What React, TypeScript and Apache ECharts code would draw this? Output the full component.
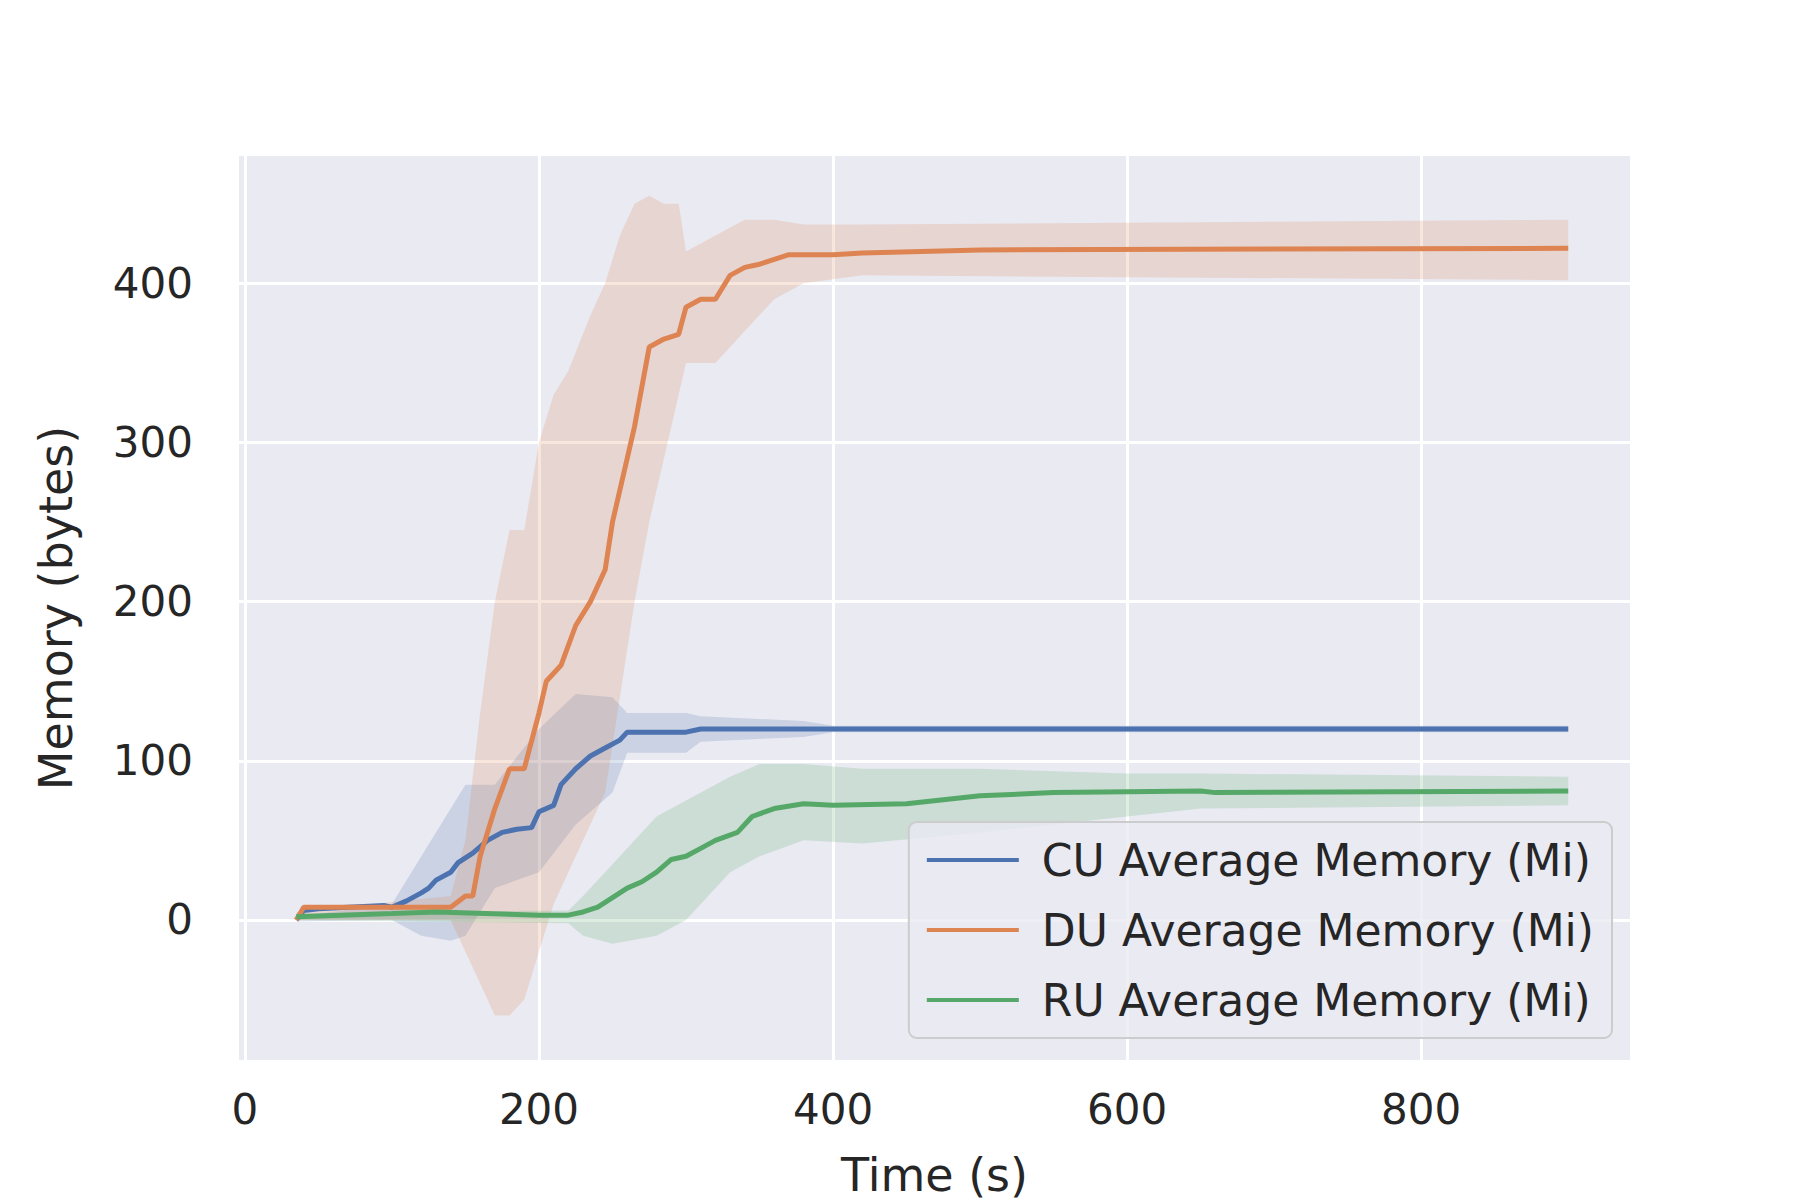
import { FC, useEffect, useRef } from "react";
import * as echarts from "echarts";

// mean lines: [time, value]
const cuMean: [number, number][] = [
  [35, 0], [40, 6], [50, 7], [70, 8], [95, 9], [100, 8], [110, 12], [120, 17], [125, 20], [130, 25],
  [140, 30], [145, 36], [155, 42], [165, 50], [175, 55], [185, 57], [195, 58], [200, 68], [210, 72],
  [215, 85], [225, 95], [235, 103], [245, 108], [255, 113], [260, 118], [300, 118], [310, 120], [900, 120],
];
const duMean: [number, number][] = [
  [35, 0], [40, 8], [100, 8], [140, 8], [150, 15], [155, 15], [160, 40], [170, 70], [180, 95], [190, 95],
  [200, 130], [205, 150], [215, 160], [225, 185], [235, 200], [245, 220], [250, 250], [255, 270],
  [265, 310], [275, 360], [285, 365], [295, 368], [300, 385], [310, 390], [320, 390], [330, 405],
  [340, 410], [350, 412], [360, 415], [370, 418], [400, 418], [420, 419], [500, 421], [900, 422],
];
const ruMean: [number, number][] = [
  [35, 2], [100, 4], [130, 5], [200, 3], [220, 3], [230, 5], [240, 8], [250, 14], [260, 20], [270, 24],
  [280, 30], [290, 38], [300, 40], [310, 45], [320, 50], [335, 55], [345, 65], [360, 70], [380, 73],
  [400, 72], [450, 73], [500, 78], [550, 80], [650, 81], [660, 80], [900, 81],
];

// confidence bands: time, lower, upper
const cuBandT = [35, 100, 120, 140, 150, 170, 200, 225, 250, 260, 300, 310, 380, 400, 900];
const cuBandLo = [-1, 0, -10, -13, -10, 20, 30, 60, 80, 105, 105, 112, 115, 118, 118];
const cuBandHi = [2, 10, 40, 70, 85, 85, 120, 142, 140, 130, 130, 128, 125, 122, 122];

const duBandT = [35, 140, 150, 160, 170, 180, 190, 200, 210, 220, 235, 245, 255, 265, 275, 285, 295, 300, 320, 340, 360, 380, 420, 900];
const duBandLo = [0, 0, -20, -40, -60, -60, -50, -20, 10, 30, 60, 80, 140, 200, 250, 290, 330, 350, 350, 370, 390, 400, 405, 402];
const duBandHi = [5, 15, 50, 130, 200, 245, 245, 300, 330, 345, 380, 400, 430, 450, 455, 450, 450, 420, 430, 440, 440, 437, 437, 440];

const ruBandT = [35, 220, 230, 250, 280, 300, 330, 350, 380, 420, 500, 600, 650, 900];
const ruBandLo = [0, -2, -10, -15, -10, 0, 30, 40, 50, 48, 55, 65, 70, 72];
const ruBandHi = [4, 6, 15, 35, 65, 75, 90, 98, 98, 95, 95, 92, 92, 90];

const names = ["CU Average Memory (Mi)", "DU Average Memory (Mi)", "RU Average Memory (Mi)"];
const colors = ["#4c72b0", "#dd8452", "#55a868"];
const xTicks = [0, 200, 400, 600, 800];
const yTicks = [0, 100, 200, 300, 400];

// band polygon drawn once per series through the axes' scales
const band = (t: number[], lo: number[], hi: number[], color: string) => ({
  type: "custom",
  silent: true,
  z: 1,
  data: t.map((x, i) => [x, lo[i], hi[i]]),
  encode: { x: 0, y: [1, 2] },
  renderItem: (params: any, api: any) => {
    if (params.dataIndex !== 0) return null;
    const upper = t.map((x, i) => api.coord([x, hi[i]]));
    const lower = t.map((x, i) => api.coord([x, lo[i]])).reverse();
    return {
      type: "polygon",
      shape: { points: [...upper, ...lower] },
      style: { fill: color, opacity: 0.2 },
    };
  },
});

const App: FC = () => {
  const ref = useRef<HTMLDivElement>(null);

  useEffect(() => {
    if (!ref.current) return;
    const chart = echarts.init(ref.current, undefined, { renderer: "svg" });
    const font = "DejaVu Sans";
    const text = { fontFamily: font, color: "#262626" };
    chart.setOption({
      animation: false,
      grid: { left: 231, right: 178, top: 148, bottom: 148, show: true, backgroundColor: "#eaeaf2", borderWidth: 0 },
      legend: {
        data: names,
        orient: "vertical",
        right: 196,
        bottom: 170,
        itemWidth: 92,
        itemHeight: 4,
        itemGap: 26,
        icon: "rect",
        backgroundColor: "rgba(234,234,242,0.8)",
        borderColor: "#cccccc",
        borderWidth: 2,
        borderRadius: 8,
        padding: [16, 18, 16, 18],
        textStyle: { ...text, fontSize: 44, padding: [0, 0, 0, 18] },
      },
      xAxis: {
        type: "value", min: -4, max: 942,
        axisLine: { show: false },
        axisTick: { show: false, customValues: xTicks },
        splitLine: { lineStyle: { color: "#ffffff", width: 3 } },
        axisLabel: { ...text, fontSize: 42, margin: 28, customValues: xTicks },
        name: "Time (s)", nameLocation: "middle", nameGap: 92,
        nameTextStyle: { ...text, fontSize: 46 },
      },
      yAxis: {
        type: "value", min: -88, max: 480,
        axisLine: { show: false },
        axisTick: { show: false, customValues: yTicks },
        splitLine: { lineStyle: { color: "#ffffff", width: 3 } },
        axisLabel: { ...text, fontSize: 42, margin: 46, customValues: yTicks },
        name: "Memory (bytes)", nameLocation: "middle", nameGap: 160,
        nameTextStyle: { ...text, fontSize: 46 },
      },
      series: [
        band(cuBandT, cuBandLo, cuBandHi, colors[0]),
        band(duBandT, duBandLo, duBandHi, colors[1]),
        band(ruBandT, ruBandLo, ruBandHi, colors[2]),
        ...[cuMean, duMean, ruMean].map((d, i) => ({
          name: names[i], type: "line", data: d, symbol: "none",
          color: colors[i], lineStyle: { color: colors[i], width: 5 }, z: 5,
        })),
      ],
    });
    return () => chart.dispose();
  }, []);

  return <div ref={ref} style={{ width: 1800, height: 1200 }} />;
};

export default App;
